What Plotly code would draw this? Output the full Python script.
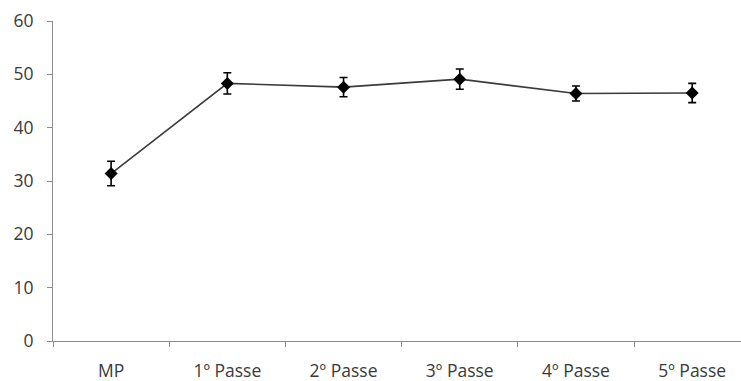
import plotly.graph_objects as go

categories = ["MP", "1º Passe", "2º Passe", "3º Passe", "4º Passe", "5º Passe"]
values = [31.4, 48.3, 47.6, 49.1, 46.4, 46.5]
errors = [2.3, 2.0, 1.8, 1.9, 1.4, 1.8]
y_ticks = [0, 10, 20, 30, 40, 50, 60]

fig = go.Figure()
fig.add_trace(go.Scatter(
    x=categories, y=values,
    mode="lines+markers",
    line=dict(color="#3a3a3a", width=1.6),
    marker=dict(symbol="diamond", size=10, color="black"),
    error_y=dict(type="data", array=errors, visible=True, color="black", thickness=1.6, width=4),
    showlegend=False,
))

font = dict(family="Open Sans, Segoe UI, sans-serif", size=17.5, color="#3a3a3a")
fig.update_layout(
    width=741, height=381,
    margin=dict(l=53, r=0, t=21, b=40, autoexpand=False),
    paper_bgcolor="white", plot_bgcolor="white",
    font=font,
    xaxis=dict(
        type="category", range=[-0.5, 5.42],
        showline=True, linecolor="#8c8c8c", linewidth=1.2,
        ticks="outside", tickson="boundaries", ticklen=5, tickcolor="#8c8c8c",
        showgrid=False, zeroline=False, tickfont=font, ticklabelstandoff=14,
        automargin=False,
    ),
    yaxis=dict(
        range=[0, 60], tickvals=y_ticks,
        showline=True, linecolor="#8c8c8c", linewidth=1.2,
        ticks="outside", ticklen=5, tickcolor="#8c8c8c",
        showgrid=False, zeroline=False, tickfont=font, ticklabelstandoff=10,
        automargin=False,
    ),
)
fig.write_html(
    "out.html",
    config={"displayModeBar": False},
    post_script="document.body.style.margin='0';document.body.style.overflow='hidden';",
)
